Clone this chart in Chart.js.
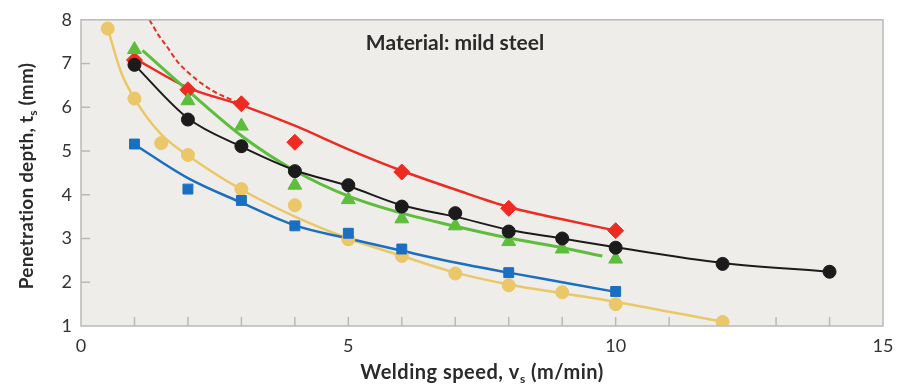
<!DOCTYPE html>
<html>
<head>
<meta charset="utf-8">
<script src="https://cdn.jsdelivr.net/npm/chart.js@4.4.1/dist/chart.umd.min.js"></script>
<style>
  html, body { margin: 0; padding: 0; background: #fff; }
  #wrap { width: 911px; height: 389px; position: relative; }
</style>
</head>
<body>
<div id="wrap"><canvas id="speedChart"></canvas></div>
<script>
var xTicks = [0, 5, 10, 15];
var yTicks = [1, 2, 3, 4, 5, 6, 7, 8];

var yellowX = [0.5, 1, 1.5, 2, 3, 4, 5, 6, 7, 8, 9, 10, 12];
var yellowY = [7.8, 6.2, 5.18, 4.91, 4.13, 3.76, 2.98, 2.6, 2.2, 1.93, 1.77, 1.5, 1.09];
var yellowFitX = [0.5, 0.75, 1, 1.5, 2, 3, 4, 5, 6, 7, 8, 9, 10, 12];
var yellowFitY = [7.8, 6.8, 6.2, 5.38, 4.9, 4.12, 3.5, 3.0, 2.6, 2.22, 1.95, 1.75, 1.55, 1.1];

var blueX = [1, 2, 3, 4, 5, 6, 8, 10];
var blueY = [5.16, 4.13, 3.87, 3.29, 3.12, 2.76, 2.22, 1.79];
var blueFitX = [1, 2, 3, 4, 5, 6, 7, 8, 9, 10];
var blueFitY = [5.15, 4.38, 3.82, 3.3, 3.0, 2.72, 2.45, 2.22, 2.0, 1.78];

var greenX = [1, 2, 3, 4, 5, 6, 7, 8, 9, 10];
var greenY = [7.32, 6.15, 5.57, 4.22, 3.89, 3.45, 3.29, 2.93, 2.76, 2.53];
var greenFitX = [1.15, 2, 3, 4, 5, 6, 7, 8, 9, 9.75];
var greenFitY = [7.3, 6.38, 5.35, 4.55, 3.97, 3.58, 3.28, 3.01, 2.79, 2.6];

var blackX = [1, 2, 3, 4, 5, 6, 7, 8, 9, 10, 12, 14];
var blackY = [6.97, 5.72, 5.11, 4.54, 4.22, 3.73, 3.58, 3.16, 3.0, 2.79, 2.42, 2.24];
var blackFitY = [6.97, 5.75, 5.1, 4.56, 4.2, 3.76, 3.5, 3.2, 3.0, 2.8, 2.44, 2.24];

var redX = [1, 2, 3, 4, 6, 8, 10];
var redY = [7.08, 6.4, 6.08, 5.2, 4.52, 3.69, 3.18];
var redFitX = [1, 2, 3, 4, 5, 6, 7, 8, 9, 10];
var redFitY = [7.12, 6.45, 6.05, 5.58, 5.04, 4.55, 4.12, 3.72, 3.44, 3.18];
var redDashX = [1.28, 1.45, 1.6, 1.8, 2, 2.25, 2.5, 2.8, 3.1];
var redDashY = [8, 7.65, 7.4, 7.05, 6.8, 6.55, 6.35, 6.18, 6.02];

var YELLOW = "#eac768", BLUE = "#1b6fc2", GREEN = "#5dbd3c", BLACK = "#1b1b1b", RED = "#ee2b22";
var FONT = "Lato, 'Open Sans', sans-serif";

function pts(xs, ys) {
    return xs.map(function(x, i) { return {x: x, y: ys[i]}; });
}

function fit(xs, ys, color, width, order) {
    return {
        data: pts(xs, ys), showLine: true, borderColor: color, borderWidth: width,
        pointRadius: 0, cubicInterpolationMode: "monotone", fill: false, order: order
    };
}

function marks(xs, ys, color, style, r, order) {
    return {
        data: pts(xs, ys), showLine: false, pointStyle: style, pointRadius: r,
        pointBackgroundColor: color, pointBorderColor: color, pointBorderWidth: 1, order: order
    };
}

// text with a subscript, optionally rotated
function drawRich(ctx, parts, cx, cy, rot, size, spacing) {
    var main = "bold " + size + "px " + FONT;
    var sub = "bold " + Math.round(size * 0.62) + "px " + FONT;
    ctx.save();
    ctx.letterSpacing = spacing + "px";
    var total = 0;
    parts.forEach(function(p) {
        ctx.font = p.sub ? sub : main;
        p.w = ctx.measureText(p.t).width;
        total += p.w;
    });
    ctx.translate(cx, cy);
    ctx.rotate(rot);
    ctx.fillStyle = "#2a2a2a";
    ctx.textBaseline = "middle";
    ctx.textAlign = "left";
    var x = -total / 2;
    parts.forEach(function(p) {
        ctx.font = p.sub ? sub : main;
        ctx.fillText(p.t, x, p.sub ? size * 0.3 : 0);
        x += p.w;
    });
    ctx.restore();
}

var framePlugin = {
    id: "frame",
    beforeDatasetsDraw: function(chart) {
        var a = chart.chartArea, ctx = chart.ctx;
        var xs = chart.scales.x, ys = chart.scales.y;
        ctx.save();
        ctx.fillStyle = "#eeede9";
        ctx.fillRect(a.left, a.top, a.right - a.left, a.bottom - a.top);
        ctx.strokeStyle = "#b9b9b9";
        ctx.lineWidth = 1.5;
        for (var i = 1; i < 15; i++) {
            var px = xs.getPixelForValue(i);
            ctx.beginPath(); ctx.moveTo(px, a.bottom); ctx.lineTo(px, a.bottom - 9); ctx.stroke();
        }
        for (var j = 2; j < 8; j++) {
            var py = ys.getPixelForValue(j);
            ctx.beginPath(); ctx.moveTo(a.left, py); ctx.lineTo(a.left + 9, py); ctx.stroke();
        }
        ctx.font = "bold 21px " + FONT;
        ctx.fillStyle = "#2a2a2a";
        ctx.textAlign = "center";
        ctx.textBaseline = "middle";
        ctx.fillText("Material: mild steel", 455, 43);
        ctx.restore();
    },
    afterDraw: function(chart) {
        var a = chart.chartArea, ctx = chart.ctx;
        ctx.save();
        ctx.strokeStyle = "#b9b9b9";
        ctx.lineWidth = 1.5;
        ctx.strokeRect(a.left, a.top, a.right - a.left, a.bottom - a.top);
        ctx.restore();
        drawRich(ctx, [{t: "Welding speed, v"}, {t: "s", sub: true}, {t: " (m/min)"}],
            482, 373, 0, 20, 0.5);
        drawRich(ctx, [{t: "Penetration depth, t"}, {t: "s", sub: true}, {t: " (mm)"}],
            27, 176, -Math.PI / 2, 19, 0.2);
    }
};

new Chart(document.getElementById("speedChart"), {
    type: "scatter",
    data: {
        datasets: [
            marks(blackX, blackY, BLACK, "circle", 6.5, 1),
            marks(greenX, greenY, GREEN, "triangle", 8, 2),
            marks(redX, redY, RED, "rectRot", 8, 3),
            marks(blueX, blueY, BLUE, "rect", 7, 4),
            marks(yellowX, yellowY, YELLOW, "circle", 6.5, 5),
            fit(blackX, blackFitY, BLACK, 2, 10),
            fit(greenFitX, greenFitY, GREEN, 3, 11),
            fit(redFitX, redFitY, RED, 2.5, 12),
            Object.assign(fit(redDashX, redDashY, RED, 2, 13), {borderDash: [5, 3]}),
            fit(blueFitX, blueFitY, BLUE, 2.5, 14),
            fit(yellowFitX, yellowFitY, YELLOW, 2.5, 15)
        ]
    },
    options: {
        responsive: true,
        maintainAspectRatio: false,
        animation: false,
        layout: { padding: { top: 16, right: 28, left: 0, bottom: 0 } },
        plugins: { legend: { display: false }, tooltip: { enabled: false } },
        scales: {
            x: {
                type: "linear", min: 0, max: 15,
                afterBuildTicks: function(s) { s.ticks = xTicks.map(function(v) { return {value: v}; }); },
                afterFit: function(s) { s.height = 63; },
                grid: { display: false, drawTicks: false },
                border: { display: false },
                ticks: { padding: 9, color: "#333", font: { family: FONT, size: 18 } }
            },
            y: {
                type: "linear", min: 1, max: 8,
                afterBuildTicks: function(s) { s.ticks = yTicks.map(function(v) { return {value: v}; }); },
                afterFit: function(s) { s.width = 81; },
                grid: { display: false, drawTicks: false },
                border: { display: false },
                ticks: { padding: 9, color: "#333", font: { family: FONT, size: 18 } }
            }
        }
    },
    plugins: [framePlugin]
});
</script>
</body>
</html>
